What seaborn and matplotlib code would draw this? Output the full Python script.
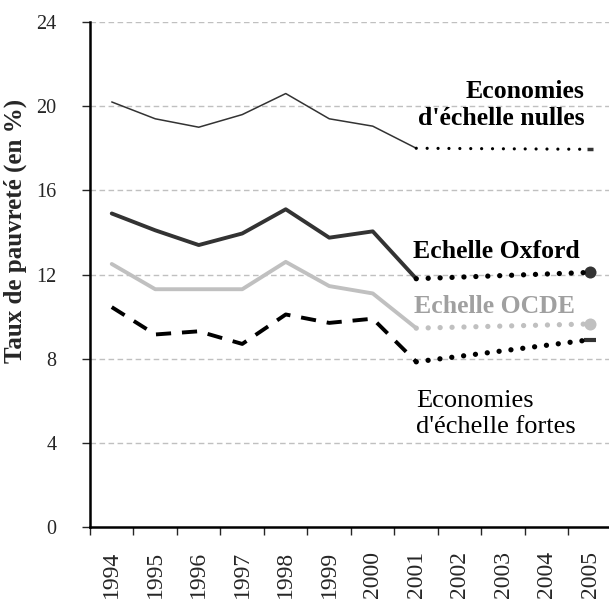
import numpy as np
import pandas as pd
import matplotlib.pyplot as plt
import seaborn as sns

years = [1994, 1995, 1996, 1997, 1998, 1999, 2000, 2001]
nulles = [20.2, 19.4, 19.0, 19.6, 20.6, 19.4, 19.05, 18.0]
oxford = [14.9, 14.1, 13.4, 13.95, 15.1, 13.75, 14.05, 11.8]
ocde = [12.5, 11.3, 11.3, 11.3, 12.6, 11.45, 11.1, 9.45]
fortes = [10.45, 9.15, 9.3, 8.7, 10.1, 9.7, 9.9, 7.85]

proj_years = [2001, 2005]
nulles_proj = [18.0, 17.95]
oxford_proj = [11.8, 12.1]
ocde_proj = [9.45, 9.65]
fortes_proj = [7.85, 8.9]

all_years = list(range(1994, 2006))

sns.set_style('white')
plt.rcParams['font.family'] = ['Liberation Serif', 'DejaVu Serif']

fig = plt.figure(figsize=(6.09, 6.05), dpi=100)
ax = fig.add_axes([90 / 609, 78 / 605, 522 / 609, 505 / 605])

dark = '#333333'
light = '#c0c0c0'

hist = pd.DataFrame({'annee': years, 'nulles': nulles, 'oxford': oxford,
                     'ocde': ocde, 'fortes': fortes})
proj = pd.DataFrame({'annee': proj_years, 'nulles': nulles_proj, 'oxford': oxford_proj,
                     'ocde': ocde_proj, 'fortes': fortes_proj})
last = proj.iloc[[-1]]

# historical series
sns.lineplot(data=hist, x='annee', y='nulles', color=dark, lw=1.1, ax=ax)
sns.lineplot(data=hist, x='annee', y='oxford', color=dark, lw=2.8, ax=ax)
sns.lineplot(data=hist, x='annee', y='ocde', color=light, lw=2.8, ax=ax)
sns.lineplot(data=hist, x='annee', y='fortes', color='black', lw=2.8,
             linestyle=(0, (3.9, 2.8)), ax=ax)

# projections
sns.lineplot(data=proj, x='annee', y='nulles', color='black', lw=2.3,
             linestyle=(0, (0.01, 3.4)), dash_capstyle='round', ax=ax)
sns.lineplot(data=proj, x='annee', y='oxford', color='black', lw=3.8,
             linestyle=(0, (0.01, 2.25)), dash_capstyle='round', ax=ax)
sns.lineplot(data=proj, x='annee', y='ocde', color=light, lw=3.8,
             linestyle=(0, (0.01, 2.25)), dash_capstyle='round', ax=ax)
sns.lineplot(data=proj, x='annee', y='fortes', color='black', lw=3.8,
             linestyle=(0, (0.01, 2.25)), dash_capstyle='round', ax=ax)

# end markers
sns.scatterplot(data=last, x='annee', y='nulles', marker='_', s=18, color=dark,
                linewidth=2.5, ax=ax)
sns.scatterplot(data=last, x='annee', y='oxford', marker='o', s=75, color=dark,
                linewidth=0, ax=ax)
sns.scatterplot(data=last, x='annee', y='ocde', marker='o', s=75, color=light,
                linewidth=0, ax=ax)
sns.scatterplot(data=last, x='annee', y='fortes', marker='_', s=70, color=dark,
                linewidth=3, ax=ax)

ax.set_xlim(1993.5, 2005.5)
ax.set_ylim(0, 24)
ax.set_yticks(np.arange(0, 25, 4))
ax.tick_params(axis='y', which='major', length=6, width=1, direction='out',
               left=True, labelsize=14.5, pad=18)
for y in range(4, 25, 4):
    ax.axhline(y, color='#c0c0c0', lw=1, ls=(0, (4, 2.5)), zorder=0)

ax.set_xticks(np.arange(1993.5, 2005.6, 1))
ax.set_xticklabels([])
ax.set_xticks(all_years, minor=True)
ax.set_xticklabels([str(y) for y in all_years], minor=True, rotation=90,
                   fontsize=17)
ax.tick_params(axis='x', which='major', length=6, width=1, direction='out',
               bottom=True)
ax.tick_params(axis='x', which='minor', length=0, pad=17)

for s in ['top', 'right']:
    ax.spines[s].set_visible(False)
for s in ['left', 'bottom']:
    ax.spines[s].set_color('black')
    ax.spines[s].set_linewidth(1.8)

ax.set_xlabel('')
ax.set_ylabel('Taux de pauvreté (en %)', fontsize=18, fontweight='bold')
ax.yaxis.set_label_coords(-0.121, 0.586)

ax.text(2004.86, 20.06, 'Economies\nd\'échelle nulles', ha='right', va='center',
        fontsize=18.5, fontweight='bold', color='black', linespacing=1.2,
        multialignment='right')
ax.text(2004.76, 13.07, 'Echelle Oxford', ha='right', va='center',
        fontsize=18.5, fontweight='bold', color='black')
ax.text(2004.65, 10.46, 'Echelle OCDE', ha='right', va='center',
        fontsize=18.5, fontweight='bold', color='#a0a0a0')
ax.text(2001.0, 5.37, 'Economies\nd\'échelle fortes', ha='left', va='center',
        fontsize=19, color='black', linespacing=1.2)

fig.savefig('out.png', dpi=100)
